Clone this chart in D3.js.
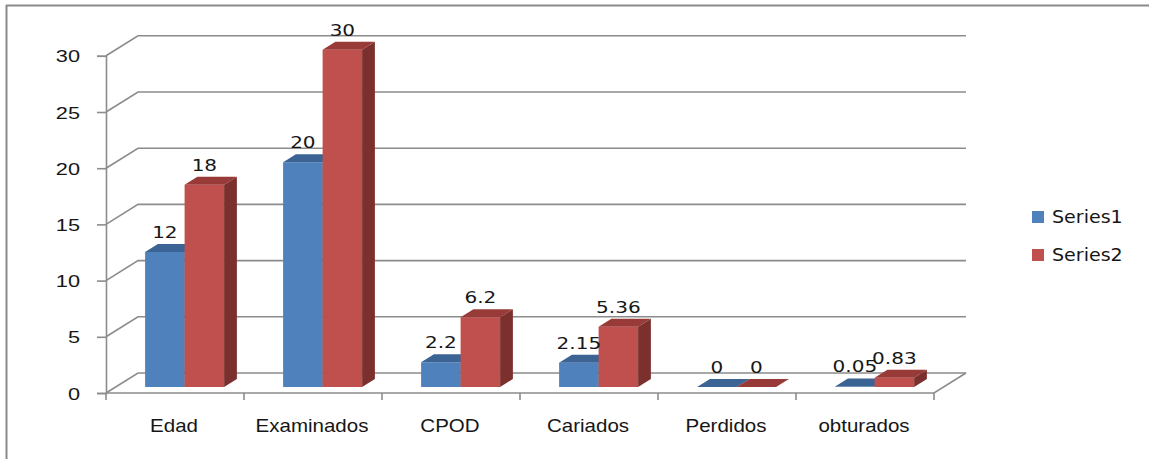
<!DOCTYPE html>
<html>
<head>
<meta charset="utf-8">
<script src="https://cdn.jsdelivr.net/npm/d3@7"></script>
<style>
  html, body { margin: 0; padding: 0; background: #fff; }
  svg { display: block; font-family: "DejaVu Sans", Verdana, sans-serif; }
</style>
</head>
<body>
<div id="chart"></div>
<script>
const categories = ["Edad", "Examinados", "CPOD", "Cariados", "Perdidos", "obturados"];
const series1 = [12, 20, 2.2, 2.15, 0, 0.05];
const series2 = [18, 30, 6.2, 5.36, 0, 0.83];
const seriesNames = ["Series1", "Series2"];
const yTicks = [0, 5, 10, 15, 20, 25, 30];

const W = 1149, H = 459;
const GRID = "#8c8c8c";
const INK = "#161616";
const COLORS = [
  { front: "#4f81bd", top: "#3b6394", side: "#2f4f78" },
  { front: "#c0504d", top: "#983a37", side: "#7b302e" }
];
// depth of the 3D box and where bars sit in it
const DX = 32, DY = -20, T0 = 0.3, T1 = 0.7;

const svg = d3.select("#chart").append("svg").attr("width", W).attr("height", H);

// outer frame (top + left visible)
svg.append("line").attr("x1", 6).attr("x2", W).attr("y1", 5.5).attr("y2", 5.5)
  .attr("stroke", "#8a8a8a").attr("stroke-width", 2);
svg.append("line").attr("x1", 6.5).attr("x2", 6.5).attr("y1", 5).attr("y2", H)
  .attr("stroke", "#8a8a8a").attr("stroke-width", 2);

const x = d3.scaleBand().domain(categories).range([106, 934]).padding(0);
const xs = d3.scaleBand().domain(seriesNames).range([0, x.bandwidth()]).paddingInner(0).paddingOuter(0.747);
const y = d3.scaleLinear().domain([0, 30]).range([393, 55.8]);

const pt = (xv, v, t) => [xv + t * DX, y(v) + t * DY];
const poly = (ps) => "M" + ps.map((p) => p.join(",")).join("L") + "Z";

const g = svg.append("g");

// back wall gridlines + left wall diagonals
yTicks.forEach((v) => {
  const a = pt(x.range()[0], v, 0), b = pt(x.range()[0], v, 1), c = pt(x.range()[1], v, 1);
  g.append("path").attr("d", `M${a}L${b}L${c}`).attr("fill", "none")
    .attr("stroke", GRID).attr("stroke-width", 1.6);
});
// floor front + right edge
{
  const a = pt(x.range()[0], 0, 0), b = pt(x.range()[1], 0, 0), c = pt(x.range()[1], 0, 1);
  g.append("path").attr("d", `M${a}L${b}L${c}`).attr("fill", "none")
    .attr("stroke", GRID).attr("stroke-width", 1.6);
}

// y axis
const ay = g.append("g").attr("transform", `translate(${x.range()[0]},0)`)
  .call(d3.axisLeft(y).tickValues(yTicks).tickSize(9).tickPadding(0));
ay.select(".domain").attr("stroke", GRID).attr("stroke-width", 1.6);
ay.selectAll("line").attr("stroke", GRID).attr("stroke-width", 1.6);
ay.selectAll("text").attr("x", 0).attr("dy", "0.36em").attr("fill", INK)
  .style("font-size", "17px").attr("text-anchor", "end")
  .attr("transform", "translate(-26,0) scale(1.28,1)");

// x axis: boundary ticks + centered labels
const bounds = categories.map((c) => x(c)).concat([x.range()[1]]);
g.selectAll(".xtick").data(bounds).join("line").attr("class", "xtick")
  .attr("x1", (d) => d).attr("x2", (d) => d).attr("y1", y(0)).attr("y2", y(0) + 7)
  .attr("stroke", GRID).attr("stroke-width", 1.6);
const ax = g.append("g").attr("transform", `translate(0,${y(0)})`)
  .call(d3.axisBottom(x).tickSize(0));
ax.select(".domain").remove();
ax.selectAll("text").attr("y", 0).attr("dy", 0).attr("fill", INK).style("font-size", "18px")
  .attr("transform", "translate(-1,39) scale(1.14,1)");

// bars
const bars = [];
categories.forEach((c, i) => {
  [series1[i], series2[i]].forEach((v, s) => {
    bars.push({ cat: c, s, v });
  });
});

const bg = g.selectAll(".bar").data(bars).join("g").attr("class", "bar");
bg.each(function (d) {
  const el = d3.select(this);
  const xl = x(d.cat) + xs(seriesNames[d.s]), xr = xl + xs.bandwidth();
  const col = COLORS[d.s];
  if (d.v > 0) {
    el.append("path").attr("fill", col.front)
      .attr("d", poly([pt(xl, d.v, T0), pt(xr, d.v, T0), pt(xr, 0, T0), pt(xl, 0, T0)]));
  }
  el.append("path").attr("fill", col.side)
    .attr("d", poly([pt(xr, d.v, T0), pt(xr, 0, T0), pt(xr, 0, T1), pt(xr, d.v, T1)]));
  el.append("path").attr("fill", col.top)
    .attr("d", poly([pt(xl, d.v, T0), pt(xr, d.v, T0), pt(xr, d.v, T1), pt(xl, d.v, T1)]));
});

// data labels
g.selectAll(".val").data(bars).join("text").attr("class", "val")
  .attr("text-anchor", "middle").attr("fill", INK).style("font-size", "16px")
  .attr("transform", (d) => {
    const xl = x(d.cat) + xs(seriesNames[d.s]);
    const p = pt(xl + xs.bandwidth() / 2, d.v, T0);
    return `translate(${p[0]},${p[1] - 14}) scale(1.25,1)`;
  })
  .text((d) => String(d.v));

// legend
const lg = svg.append("g").attr("transform", "translate(1032,211)");
seriesNames.forEach((n, i) => {
  const row = lg.append("g").attr("transform", `translate(0,${i * 38})`);
  row.append("rect").attr("width", 12).attr("height", 12).attr("fill", COLORS[i].front);
  row.append("text").attr("fill", INK).style("font-size", "18px").attr("dy", "0.36em")
    .attr("transform", "translate(20,6) scale(1.06,1)").text(n);
});
</script>
</body>
</html>
